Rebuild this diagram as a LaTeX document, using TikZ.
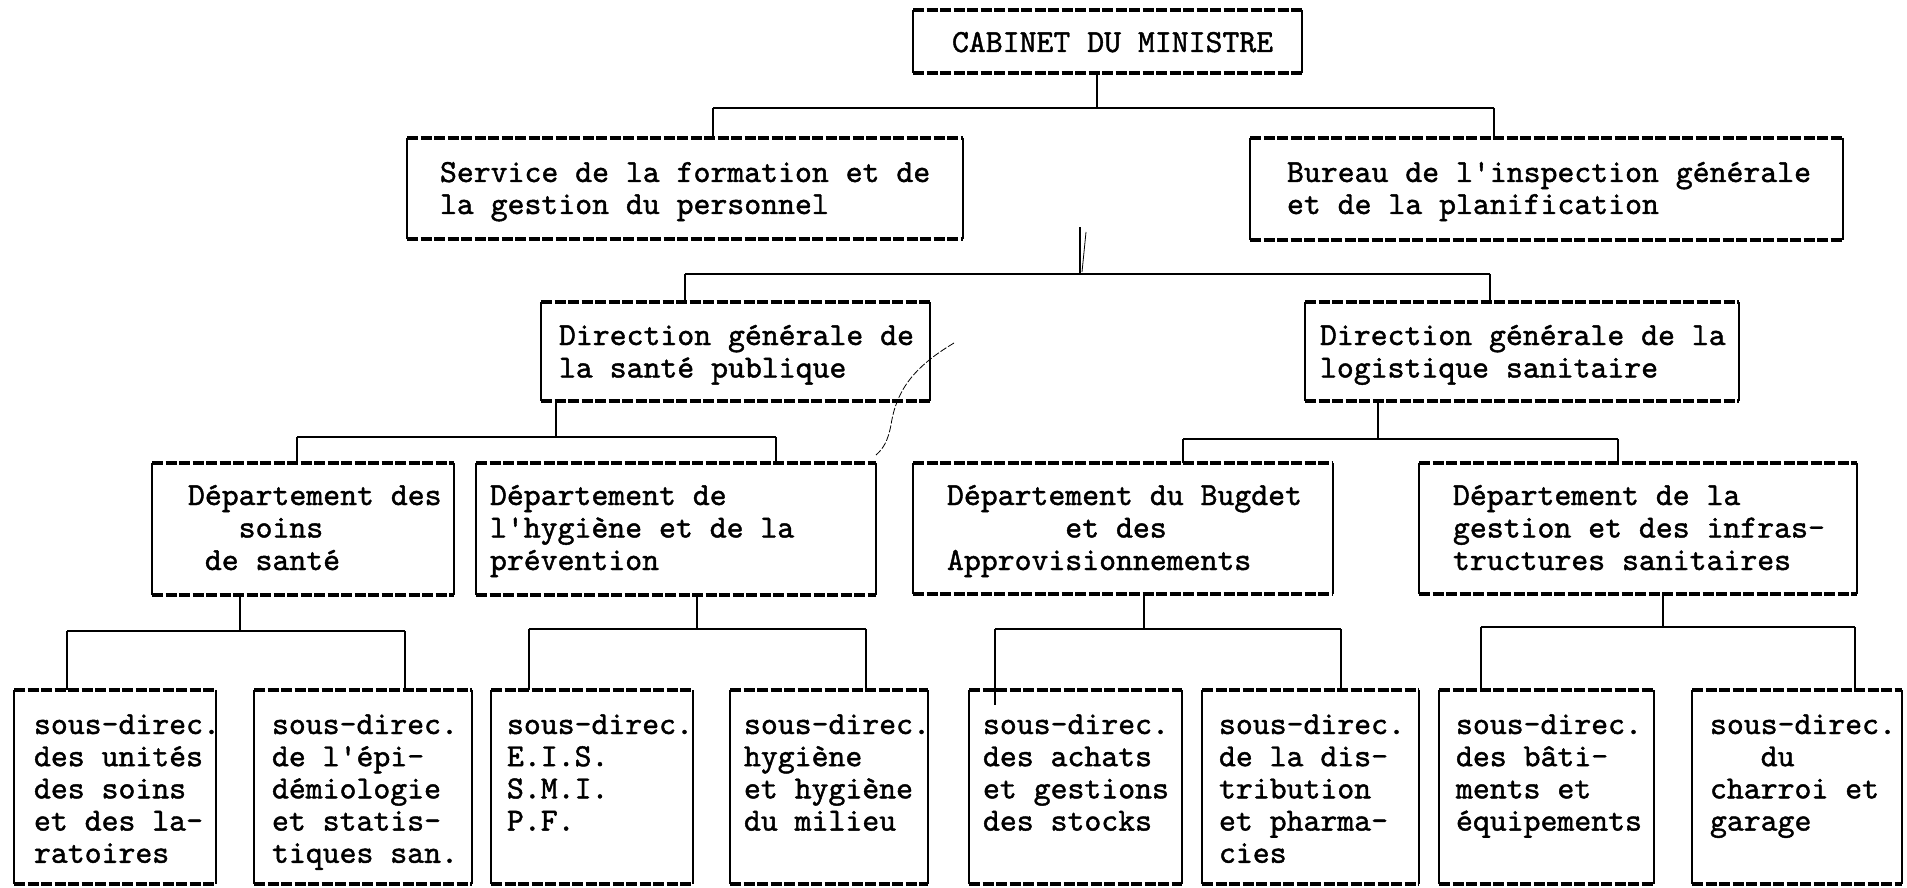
\documentclass[tikz,border=0pt]{standalone}
\usepackage{fontspec}
\newfontfamily\tw{lmmono10-regular.otf}[FakeBold=1.3]
\newlength\cw
\setlength\cw{16.9pt}
\newcommand\ind[1]{\hspace*{#1\cw}}
\newcommand\mkbox[5]{%
  \node[boxnode, minimum width={(#4-#2)*1pt}, minimum height={(#5-#3)*1pt}, anchor=north west] (#1) at (#2,#3) {};
  \draw[side] (#1.north west) -- (#1.south west);
  \draw[side] (#1.north east) -- (#1.south east);
  \draw[edge] (#1.north west) -- (#1.north east);
  \draw[edge] (#1.south west) -- (#1.south east);
}
\newcommand\mktext[5]{%
  \foreach \lineT [count=\i] in {#5}
    \node[txt] (#1-\i) at (#2,{#3+(\i-1)*#4}) {\lineT};
}
\begin{document}
\begin{tikzpicture}[x=1pt,y=-1pt,
  boxnode/.style={inner sep=0pt, outer sep=0pt, draw=none},
  side/.style={line width=1.3pt, black},
  edge/.style={line width=3.2pt, black, dash pattern=on 11pt off 2.5pt},
  conn/.style={line width=1.7pt, black},
  stray/.style={line width=0.8pt, black},
  txt/.style={anchor=base west, inner sep=0pt, outer sep=0pt, font=\tw\fontsize{32.2}{32.5}\selectfont},
]
\useasboundingbox[fill=white] (0,0) rectangle (1907,888);

% ---- boxes
\mkbox{cab}{913}{10}{1302}{73}
\mkbox{svc}{407}{138}{963}{239}
\mkbox{bur}{1250}{138}{1843}{240}
\mkbox{dgs}{541}{302}{930}{401}
\mkbox{dgl}{1305}{302}{1739}{401}
\mkbox{dep1}{152}{463}{454}{595}
\mkbox{dep2}{476}{463}{876}{595}
\mkbox{dep3}{913}{463}{1333}{594}
\mkbox{dep4}{1419}{463}{1857}{594}
\mkbox{sd1}{14}{690}{216}{884}
\mkbox{sd2}{254}{690}{472}{884}
\mkbox{sd3}{491}{690}{693}{884}
\mkbox{sd4}{730}{690}{928}{884}
\mkbox{sd5}{969}{690}{1182}{884}
\mkbox{sd6}{1202}{690}{1419}{884}
\mkbox{sd7}{1439}{690}{1654}{884}
\mkbox{sd8}{1692}{690}{1902}{884}

% ---- texts
\mktext{cabT}{952}{52}{32}{CABINET DU MINISTRE}
\mktext{svcT}{440}{182}{32}{Service de la formation et de, la gestion du personnel}
\mktext{burT}{1287}{182}{32}{Bureau de l'inspection générale, et de la planification}
\mktext{dgsT}{559}{345}{32.5}{Direction générale de, la santé publique}
\mktext{dglT}{1320}{345}{32.5}{Direction générale de la, logistique sanitaire}
\mktext{dep1T}{188}{505}{32.5}{Département des, \ind{3}soins, \ind{1}de santé}
\mktext{dep2T}{490}{505}{32.5}{Département de, l'hygiène et de la, prévention}
\mktext{dep3T}{947}{505}{32.5}{Département du Bugdet, \ind{7}et des, Approvisionnements}
\mktext{dep4T}{1453}{505}{32.5}{Département de la, gestion et des infras-, tructures sanitaires}
\mktext{sd1T}{34}{734}{32.2}{sous-direc., des unités, des soins, et des la-, ratoires}
\mktext{sd2T}{272}{734}{32.2}{sous-direc., de l'épi-, démiologie, et statis-, tiques san.}
\mktext{sd3T}{507}{734}{32.2}{sous-direc., E.I.S., S.M.I., P.F.}
\mktext{sd4T}{744}{734}{32.2}{sous-direc., hygiène, et hygiène, du milieu}
\mktext{sd5T}{983}{734}{32.2}{sous-direc., des achats, et gestions, des stocks}
\mktext{sd6T}{1219}{734}{32.2}{sous-direc., de la dis-, tribution, et pharma-, cies}
\mktext{sd7T}{1456}{734}{32.2}{sous-direc., des bâti-, ments et, équipements}
\mktext{sd8T}{1710}{734}{32.2}{sous-direc., \ind{3}du, charroi et, garage}

% ---- connectors
% level 1
\coordinate (j1) at (1097,108);
\coordinate (b1l) at (713,108);
\coordinate (b1r) at (1494,108);
\draw[conn] (j1 |- cab.south) -- (j1);
\draw[conn] (b1l) -- (b1r);
\draw[conn] (b1l) -- (b1l |- svc.north);
\draw[conn] (b1r) -- (b1r |- bur.north);
% level 2
\coordinate (j2t) at (1080,227);
\coordinate (j2) at (1080,274);
\coordinate (b2l) at (685,274);
\coordinate (b2r) at (1490,274);
\draw[conn] (j2t) -- (j2);
\draw[stray] (1086,232) -- (1082,272);
\draw[conn] (b2l) -- (b2r);
\draw[conn] (b2l) -- (b2l |- dgs.north);
\draw[conn] (b2r) -- (b2r |- dgl.north);
% level 3
\coordinate (j3a) at (556,437);
\coordinate (b3al) at (297,437);
\coordinate (b3ar) at (776,437);
\draw[conn] (j3a |- dgs.south) -- (j3a);
\draw[conn] (b3al) -- (b3ar);
\draw[conn] (b3al) -- (b3al |- dep1.north);
\draw[conn] (b3ar) -- (b3ar |- dep2.north);
\coordinate (j3b) at (1378,439);
\coordinate (b3bl) at (1183,439);
\coordinate (b3br) at (1618,439);
\draw[conn] (j3b |- dgl.south) -- (j3b);
\draw[conn] (b3bl) -- (b3br);
\draw[conn] (b3bl) -- (b3bl |- dep3.north);
\draw[conn] (b3br) -- (b3br |- dep4.north);
% level 4
\coordinate (j4a) at (240,631);
\coordinate (b4al) at (67,631);
\coordinate (b4ar) at (405,631);
\draw[conn] (j4a |- dep1.south) -- (j4a);
\draw[conn] (b4al) -- (b4ar);
\draw[conn] (b4al) -- (b4al |- sd1.north);
\draw[conn] (b4ar) -- (b4ar |- sd2.north);
\coordinate (j4b) at (697,629);
\coordinate (b4bl) at (529,629);
\coordinate (b4br) at (866,629);
\draw[conn] (j4b |- dep2.south) -- (j4b);
\draw[conn] (b4bl) -- (b4br);
\draw[conn] (b4bl) -- (b4bl |- sd3.north);
\draw[conn] (b4br) -- (b4br |- sd4.north);
\coordinate (j4c) at (1144,629);
\coordinate (b4cl) at (995,629);
\coordinate (b4cr) at (1341,629);
\coordinate (e4c) at (995,705);
\draw[conn] (j4c |- dep3.south) -- (j4c);
\draw[conn] (b4cl) -- (b4cr);
\draw[conn] (b4cl) -- (e4c);
\draw[conn] (b4cr) -- (b4cr |- sd6.north);
\coordinate (j4d) at (1663,627);
\coordinate (b4dl) at (1481,627);
\coordinate (b4dr) at (1855,627);
\draw[conn] (j4d |- dep4.south) -- (j4d);
\draw[conn] (b4dl) -- (b4dr);
\draw[conn] (b4dl) -- (b4dl |- sd7.north);
\draw[conn] (b4dr) -- (b4dr |- sd8.north);

% stray pen stroke
\draw[stray, dash pattern=on 7pt off 2pt] (954,343) .. controls (912,368) and (896,392) .. (891,425) .. controls (888,440) and (884,448) .. (876,455);
\end{tikzpicture}
\end{document}
